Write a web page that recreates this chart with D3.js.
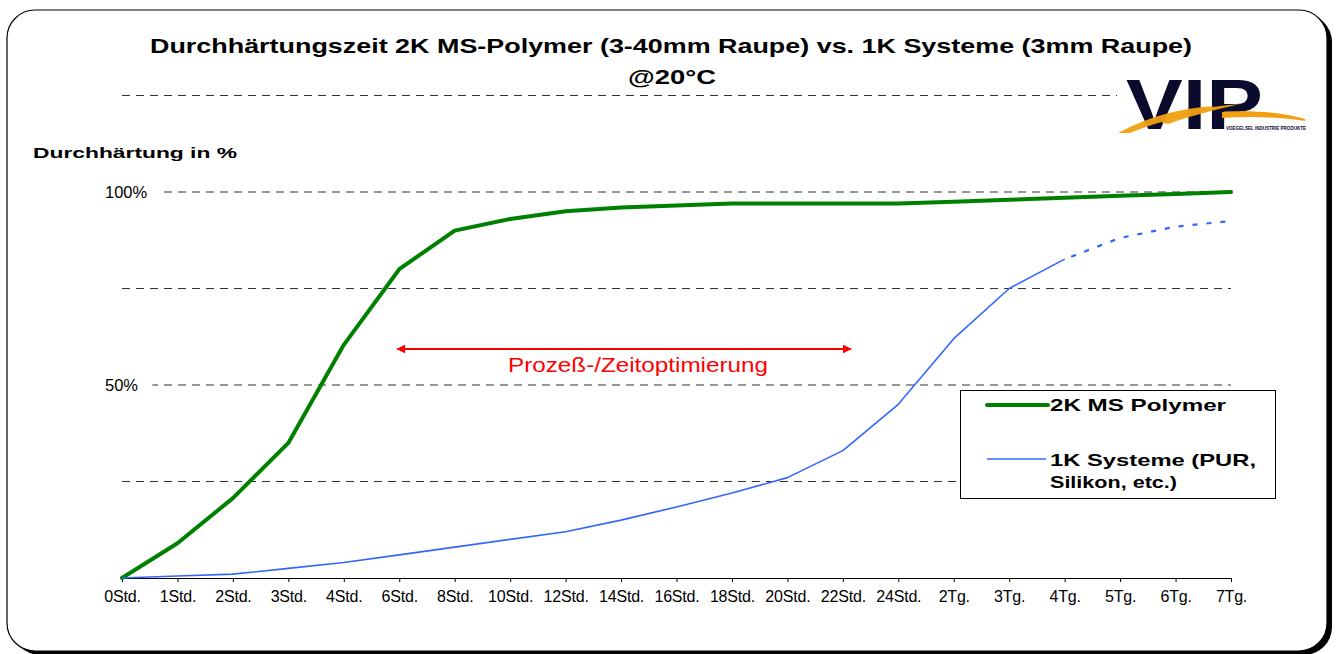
<!DOCTYPE html>
<html>
<head>
<meta charset="utf-8">
<script src="https://cdn.jsdelivr.net/npm/d3@7"></script>
<style>
  html, body { margin: 0; padding: 0; background: #fff; }
  svg { display: block; font-family: "Liberation Sans", Arial, sans-serif; }
</style>
</head>
<body>
<svg id="chart" width="1338" height="654"></svg>
<script>
// ---- data ----
const categories = ["0Std.", "1Std.", "2Std.", "3Std.", "4Std.", "6Std.", "8Std.", "10Std.", "12Std.", "14Std.",
  "16Std.", "18Std.", "20Std.", "22Std.", "24Std.", "2Tg.", "3Tg.", "4Tg.", "5Tg.", "6Tg.", "7Tg."];
const polymer2K = [0, 9, 20.7, 35, 60.4, 80, 90, 93, 95, 96, 96.5, 97, 97, 97, 97, 97.5, 98, 98.5, 99, 99.5, 100];
const systeme1K = [0, 0.5, 1, 2.5, 4, 6, 8, 10, 12, 15, 18.4, 22, 26, 33, 45, 62, 75, 82.6, 88.1, 91, 92.5];
const projectedFrom = "4Tg.";          // 1K curve is dashed (projected) after this category
const gridValues = [25, 50, 75, 100, 125];
const yTickLabels = [{ v: 100, t: "100%" }, { v: 50, t: "50%" }];
const seriesNames = ["2K MS Polymer", ["1K Systeme (PUR,", "Silikon, etc.)"]];
const titleLines = ["Durchhärtungszeit 2K MS-Polymer (3-40mm Raupe) vs. 1K Systeme (3mm Raupe)", "@20°C"];
const yAxisTitle = "Durchhärtung in %";
const arrowRange = ["6Std.", "22Std."];
const arrowLabel = "Prozeß-/Zeitoptimierung";

// ---- setup ----
const svg = d3.select("#chart");

// frame with shadow
const frameX = 7, frameY = 10, frameW = 1320, frameH = 641, frameR = 28;
svg.append("rect").attr("x", frameX + 5).attr("y", frameY + 4).attr("width", frameW).attr("height", frameH)
  .attr("rx", frameR).attr("fill", "#000");
svg.append("rect").attr("x", frameX).attr("y", frameY).attr("width", frameW).attr("height", frameH)
  .attr("rx", frameR).attr("fill", "#fff").attr("stroke", "#000").attr("stroke-width", 1.2);

const x = d3.scalePoint().domain(categories).range([122, 1231]);
const y = d3.scaleLinear().domain([0, 125]).range([578, 95.5]);

// gridlines
svg.append("g").selectAll("line").data(gridValues).join("line")
  .attr("x1", 122).attr("x2", 1231)
  .attr("y1", d => y(d)).attr("y2", d => y(d))
  .attr("stroke", "#333").attr("stroke-width", 1).attr("stroke-dasharray", "8,6");

// y tick labels (with white backdrop)
const yl = svg.append("g");
yTickLabels.forEach(d => {
  const t = yl.append("text").attr("x", 105).attr("y", y(d.v) + 6)
    .style("font-size", "16.5px").attr("fill", "#000").text(d.t);
  const bb = t.node().getBBox();
  yl.insert("rect", "text").attr("x", bb.x - 2).attr("y", y(d.v) - 4).attr("width", bb.width + 16).attr("height", 8).attr("fill", "#fff");
});

// x axis
const xAxis = d3.axisBottom(x).tickSize(4).tickPadding(9).tickSizeOuter(0);
const gx = svg.append("g").attr("transform", "translate(0,578)").call(xAxis);
gx.attr("font-size", null).attr("font-family", null);
gx.select(".domain").attr("stroke", "#000").attr("stroke-width", 1);
gx.selectAll(".tick line").attr("stroke", "#000");
gx.selectAll(".tick text")
  .style("font-size", "16px").style("letter-spacing", "-0.2px")
  .style("font-family", "'Liberation Sans', Arial, sans-serif").attr("fill", "#000");

// lines
const line = d3.line().x((d, i) => x(categories[i])).y(d => y(d));
svg.append("path").datum(polymer2K).attr("d", line)
  .attr("fill", "none").attr("stroke", "#008000").attr("stroke-width", 4)
  .attr("stroke-linejoin", "round").attr("stroke-linecap", "round");

const cut = categories.indexOf(projectedFrom);
const lineIdx = d3.line().x(d => x(categories[d.i])).y(d => y(d.v));
const blue = systeme1K.map((v, i) => ({ v, i }));
svg.append("path").datum(blue.slice(0, cut + 1)).attr("d", lineIdx)
  .attr("fill", "none").attr("stroke", "#3366ff").attr("stroke-width", 1.6).attr("stroke-linejoin", "round");
svg.append("path").datum(blue.slice(cut)).attr("d", lineIdx)
  .attr("fill", "none").attr("stroke", "#3366ff").attr("stroke-width", 2.2).attr("stroke-dasharray", "5,9")
  .attr("stroke-dashoffset", -7);

// red arrow
const defs = svg.append("defs");
defs.append("marker").attr("id", "arre").attr("viewBox", "0 0 10 10").attr("refX", 9).attr("refY", 5)
  .attr("markerWidth", 5).attr("markerHeight", 4).attr("markerUnits", "strokeWidth").attr("orient", "auto-start-reverse")
  .append("path").attr("d", "M0,0 L10,5 L0,10 z").attr("fill", "#ff0000");
const ax1 = x(arrowRange[0]) - 2, ax2 = x(arrowRange[1]) + 8;
svg.append("line").attr("x1", ax1).attr("x2", ax2).attr("y1", 349).attr("y2", 349)
  .attr("stroke", "#ff0000").attr("stroke-width", 2.2)
  .attr("marker-start", "url(#arre)").attr("marker-end", "url(#arre)");
svg.append("text").attr("x", 508).attr("y", 372).attr("font-size", 20).attr("fill", "#ff0000")
  .attr("textLength", 260).attr("lengthAdjust", "spacingAndGlyphs").text(arrowLabel);

// title
svg.append("text").attr("x", 150).attr("y", 53).attr("font-size", 21).attr("font-weight", "bold")
  .attr("textLength", 1042).attr("lengthAdjust", "spacingAndGlyphs").text(titleLines[0]);
svg.append("text").attr("x", 628).attr("y", 84).attr("font-size", 21).attr("font-weight", "bold")
  .attr("textLength", 88).attr("lengthAdjust", "spacingAndGlyphs").text(titleLines[1]);

// y axis title
svg.append("text").attr("x", 33).attr("y", 158).attr("font-size", 15.5).attr("font-weight", "bold")
  .attr("textLength", 204).attr("lengthAdjust", "spacingAndGlyphs").text(yAxisTitle);

// legend
const lg = svg.append("g");
lg.append("rect").attr("x", 960.5).attr("y", 390.5).attr("width", 315).attr("height", 108)
  .attr("fill", "#fff").attr("stroke", "#000").attr("stroke-width", 1);
lg.append("line").attr("x1", 987).attr("x2", 1048).attr("y1", 405).attr("y2", 405)
  .attr("stroke", "#008000").attr("stroke-width", 4).attr("stroke-linecap", "round");
lg.append("text").attr("x", 1050).attr("y", 411).attr("font-size", 17).attr("font-weight", "bold")
  .attr("textLength", 176).attr("lengthAdjust", "spacingAndGlyphs").text(seriesNames[0]);
lg.append("line").attr("x1", 987).attr("x2", 1046).attr("y1", 459).attr("y2", 459)
  .attr("stroke", "#3366ff").attr("stroke-width", 1.6);
lg.append("text").attr("x", 1050).attr("y", 466).attr("font-size", 17).attr("font-weight", "bold")
  .attr("textLength", 206).attr("lengthAdjust", "spacingAndGlyphs").text(seriesNames[1][0]);
lg.append("text").attr("x", 1050).attr("y", 488).attr("font-size", 17).attr("font-weight", "bold")
  .attr("textLength", 127).attr("lengthAdjust", "spacingAndGlyphs").text(seriesNames[1][1]);

// logo
const logo = svg.append("g");
logo.append("rect").attr("x", 1117).attr("y", 76).attr("width", 192).attr("height", 60).attr("fill", "#fff");
logo.append("text").attr("x", 1126).attr("y", 129).attr("font-size", 70).attr("font-weight", 900)
  .attr("font-family", "'Liberation Sans', Arial, sans-serif").attr("fill", "#0b0b2e")
  .attr("textLength", 137).attr("lengthAdjust", "spacingAndGlyphs").text("VIP");
logo.append("path").attr("d", "M1118,133 C1150,116 1180,108 1215,106 C1195,112 1160,121 1130,133 Z").attr("fill", "#f0a010").attr("opacity", 0.95);
logo.append("path").attr("d", "M1160,122 C1185,112 1210,106 1240,104 C1215,110 1190,116 1168,124 Z").attr("fill", "#f0a010").attr("opacity", 0.95);
logo.append("path").attr("d", "M1222,112 C1250,110 1280,112 1305,119 L1305,121 C1278,117 1250,116 1222,118 Z").attr("fill", "#f0a010");
logo.append("rect").attr("x", 1244).attr("y", 123).attr("width", 62).attr("height", 8).attr("fill", "#fff");
logo.append("text").attr("x", 1226).attr("y", 130).attr("font-size", 5).attr("font-weight", "bold").attr("fill", "#0b0b2e")
  .attr("textLength", 80).attr("lengthAdjust", "spacingAndGlyphs").text("VOEGELSEL INDUSTRIE PRODUKTE");
</script>
</body>
</html>
